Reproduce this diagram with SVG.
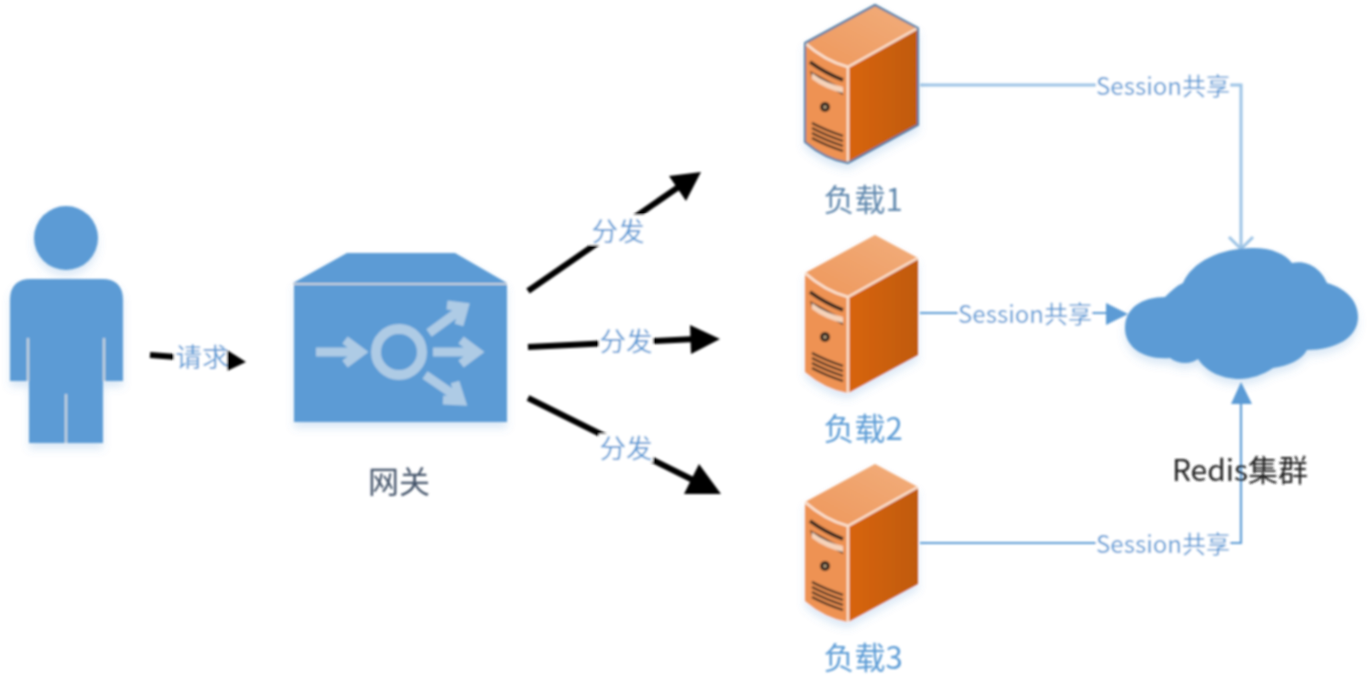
<svg xmlns="http://www.w3.org/2000/svg" xmlns:xlink="http://www.w3.org/1999/xlink" width="1368" height="680" viewBox="0 0 1368 680">
<style>
text{font-family:"Noto Sans CJK SC","Noto Sans",sans-serif;text-anchor:middle}
.lbl{font-size:31px;fill:#5b9bd5}
.edge{font-size:24px;fill:#5b9bd5}
.cn{font-size:26.500px;fill:#5b9bd5}
.blue{fill:#5b9bd5}
.gap{stroke:#c3d2df;stroke-width:2.500;fill:none}
.arr{fill:none;stroke:#000;stroke-width:6}
.tip{fill:#000}
.bl{fill:none;stroke:#5b9bd5;stroke-width:2.200}
.bl2{fill:none;stroke:#9cc3e5;stroke-width:3}
.bg{fill:#fff}
.ic{fill:none;stroke:#aecbe5;stroke-width:10}
.ar{fill:none;stroke:#aecbe5;stroke-width:9}
.shade{filter:url(#shadow)}
</style>
<defs>
<linearGradient id="side" x1="0" x2="1" y1="0" y2="0"><stop offset="0" stop-color="#d8650f"/><stop offset="1" stop-color="#c05a10"/></linearGradient>
<linearGradient id="top" x1="0" x2="1" y1="1" y2="0"><stop offset="0" stop-color="#ee975b"/><stop offset="1" stop-color="#f2ae7c"/></linearGradient>
<filter id="soft" x="0" y="0" width="100%" height="100%" filterUnits="userSpaceOnUse"><feGaussianBlur stdDeviation="0.8"/></filter>
<filter id="shadow" x="-10%" y="-10%" width="120%" height="125%"><feDropShadow dx="0" dy="6" stdDeviation="4" flood-color="#5b9bd5" flood-opacity="0.22"/></filter>
<g id="server">
<path d="M0 38 Q20 56 43 62 V158 Q20 154 0 137Z" fill="#ee9252"/>
<path d="M43 62 L113 23 V120 L43 158Z" fill="url(#side)"/>
<path d="M0 38 L70 0 L113 23 L43 62 Q20 56 0 38Z" fill="url(#top)"/>
<path d="M0 38 Q20 56 43 62 L113 23 M43 62 V158" fill="none" stroke="#fbe3d2" stroke-width="2.500"/>
<path d="M5 57 Q20 68 38 75" fill="none" stroke="#3a2a20" stroke-width="3.500"/>
<path d="M5 66 L38 84 V90 L7 72Z" fill="#3a2a20"/>
<path d="M7 68 Q20 78 38 82 V88 Q20 84 7 74Z" fill="#f6d3ba"/>
<circle cx="20" cy="102" r="5" fill="#3a2a20"/>
<circle cx="20" cy="102" r="1.500" fill="#c7b08f"/>
<path d="M7 118 Q20 125 38 131 M7 123 Q20 130 38 136 M7 128 Q20 135 38 141 M7 133 Q20 140 38 146" fill="none" stroke="#3a2a20" stroke-width="2"/>
</g>
</defs>
<g filter="url(#soft)">
<g id="connectors">
<path class="arr" d="M150 355 L228 361"/><path class="tip" d="M227 350 L246 362 L227 371Z"/>
<path class="arr" d="M528 291 L680 186"/><path class="tip" d="M669 176 L701 172 L686 201Z"/>
<path class="arr" d="M528 347 L695 339"/><path class="tip" d="M690 325 L720 339 L691 354Z"/>
<path class="arr" d="M528 398 L695 481"/><path class="tip" d="M699 464 L721 494 L684 494Z"/>
<path class="bl2" d="M920 85 H1241 V248 M1229 237 L1241 249 L1253 237"/>
<path class="bl" d="M920 313 H1110"/><path class="blue" d="M1106 303 L1128 314 L1106 325Z"/>
<path class="bl" d="M920 543 H1241 V400"/><path class="blue" d="M1231 404 L1241 382 L1252 404Z"/>
</g>
<g id="user" class="shade">
<g class="blue">
<circle cx="66" cy="238" r="32"/>
<path d="M10 381 V300 Q10 279 31 279 H102 Q123 279 123 300 V381 H103 V443 H29 V381Z"/>
</g>
<path class="gap" d="M28 338 V381 M104 338 V381 M66 394 V443"/>
</g>
<g id="gateway" class="shade">
<path class="blue" d="M293 283 L347 253 H455 L507 283Z"/>
<rect class="blue" x="294" y="285" width="213" height="137"/>
<path d="M293 284 H507" stroke="#c9d3dc" stroke-width="2" fill="none"/>
<circle class="ic" cx="399" cy="352" r="23"/>
<path class="ar" d="M316 352 H360 M345 340 L361 352 L345 364"/>
<path class="ar" d="M433 352 H476 M461 340 L477 352 L461 364"/>
<path class="ar" d="M429 333 L463 308 M447 305 L464 307 L459 325"/>
<path class="ar" d="M425 375 L460 399 M443 400 L461 401 L455 382"/>
</g>
<g id="load1" class="shade"><use xlink:href="#server" href="#server" x="805" y="5"/>
<path d="M805 43 L875 5 L918 28 V125 L848 163 Q825 159 805 142Z" fill="none" stroke="#4a7ba6" stroke-width="2"/></g>
<g id="load2" class="shade"><use xlink:href="#server" href="#server" x="805" y="235"/></g>
<g id="load3" class="shade"><use xlink:href="#server" href="#server" x="805" y="464"/></g>
<g id="redis" class="shade">
<path class="blue" d="M1125 328 C1125 308 1142 297 1165 297 C1171 291 1176 286 1183 283 C1192 262 1220 248 1253 248 C1272 248 1285 254 1292 263 C1308 259 1322 270 1327 283 C1345 288 1358 300 1358 317 C1358 338 1335 350 1307 350 C1302 360 1288 366 1273 368 C1263 375 1250 379 1240 379 C1220 379 1205 370 1198 359 C1190 365 1178 364 1170 358 C1143 360 1125 347 1125 328Z"/>
</g>
<g id="labels">
<rect class="bg" x="590" y="215" width="56" height="30"/>
<rect class="bg" x="599" y="328" width="54" height="28"/>
<rect class="bg" x="599" y="434" width="54" height="28"/>
<rect class="bg" x="174" y="345" width="53" height="26"/>
<rect class="bg" x="1096" y="74" width="134" height="24"/>
<rect class="bg" x="958" y="303" width="134" height="24"/>
<rect class="bg" x="1096" y="532" width="134" height="24"/>
<text class="cn" x="618" y="241">分发</text>
<text class="cn" x="626" y="351">分发</text>
<text class="cn" x="626" y="458">分发</text>
<text class="cn" x="202" y="367">请求</text>
<text class="edge" x="1163" y="95">Session共享</text>
<text class="edge" x="1025" y="323">Session共享</text>
<text class="edge" x="1163" y="553">Session共享</text>
<text x="863" y="211" style="font-size:31px;fill:#5f87ad">负载1</text>
<text class="lbl" x="863" y="440">负载2</text>
<text class="lbl" x="863" y="669">负载3</text>
<text x="399" y="493" style="font-size:31px;fill:#44546a">网关</text>
<text x="1240" y="481" style="font-size:30px;fill:#222">Redis集群</text>
</g>
</g>
</svg>
